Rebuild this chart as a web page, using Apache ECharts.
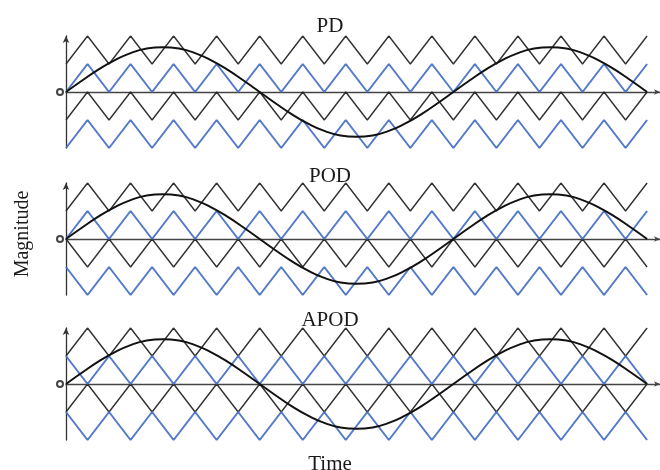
<!DOCTYPE html>
<html>
<head>
<meta charset="utf-8">
<script src="https://cdn.jsdelivr.net/npm/echarts@6/dist/echarts.min.js"></script>
<style>
  html, body { margin: 0; padding: 0; background: #fff; }
  #chart { width: 660px; height: 470px; }
</style>
</head>
<body>
<div id="chart"></div>
<script>
// ---- Data ----
const panelTitles = ['PD', 'POD', 'APOD'];
const axisTitleX = 'Time';
const axisTitleY = 'Magnitude';

// carrier vertex times (in carrier periods)
const carrierTimes = [0,0.5,1,1.5,2,2.5,3,3.5,4,4.5,5,5.5,6,6.5,7,7.5,8,8.5,9,9.5,10,10.5,11,11.5,12,12.5,13,13.5];

// PD: all carriers in phase
const pdTopBlack = [1,2,1,2,1,2,1,2,1,2,1,2,1,2,1,2,1,2,1,2,1,2,1,2,1,2,1,2];
const pdUpBlue   = [0,1,0,1,0,1,0,1,0,1,0,1,0,1,0,1,0,1,0,1,0,1,0,1,0,1,0,1];
const pdLowBlack = [-1,0,-1,0,-1,0,-1,0,-1,0,-1,0,-1,0,-1,0,-1,0,-1,0,-1,0,-1,0,-1,0,-1,0];
const pdLowBlue  = [-2,-1,-2,-1,-2,-1,-2,-1,-2,-1,-2,-1,-2,-1,-2,-1,-2,-1,-2,-1,-2,-1,-2,-1,-2,-1,-2,-1];

// POD: carriers below zero in opposite phase
const podTopBlack = [1,2,1,2,1,2,1,2,1,2,1,2,1,2,1,2,1,2,1,2,1,2,1,2,1,2,1,2];
const podUpBlue   = [0,1,0,1,0,1,0,1,0,1,0,1,0,1,0,1,0,1,0,1,0,1,0,1,0,1,0,1];
const podLowBlack = [0,-1,0,-1,0,-1,0,-1,0,-1,0,-1,0,-1,0,-1,0,-1,0,-1,0,-1,0,-1,0,-1,0,-1];
const podLowBlue  = [-1,-2,-1,-2,-1,-2,-1,-2,-1,-2,-1,-2,-1,-2,-1,-2,-1,-2,-1,-2,-1,-2,-1,-2,-1,-2,-1,-2];

// APOD: adjacent carriers alternately in opposite phase
const apodTopBlack = [1,2,1,2,1,2,1,2,1,2,1,2,1,2,1,2,1,2,1,2,1,2,1,2,1,2,1,2];
const apodUpBlue   = [1,0,1,0,1,0,1,0,1,0,1,0,1,0,1,0,1,0,1,0,1,0,1,0,1,0,1,0];
const apodLowBlack = [-1,0,-1,0,-1,0,-1,0,-1,0,-1,0,-1,0,-1,0,-1,0,-1,0,-1,0,-1,0,-1,0,-1,0];
const apodLowBlue  = [-1,-2,-1,-2,-1,-2,-1,-2,-1,-2,-1,-2,-1,-2,-1,-2,-1,-2,-1,-2,-1,-2,-1,-2,-1,-2,-1,-2];

// modulating (reference) wave
const sineTimes  = [0,0.375,0.75,1.125,1.5,1.875,2.25,2.625,3,3.375,3.75,4.125,4.5,4.875,5.25,5.625,6,6.375,6.75,7.125,7.5,7.875,8.25,8.625,9,9.375,9.75,10.125,10.5,10.875,11.25,11.625,12,12.375,12.75,13.125,13.5];
const sineValues = [0,0.41,0.8,1.13,1.39,1.55,1.6,1.55,1.39,1.13,0.8,0.41,0,-0.41,-0.8,-1.13,-1.39,-1.55,-1.6,-1.55,-1.39,-1.13,-0.8,-0.41,0,0.41,0.8,1.13,1.39,1.55,1.6,1.55,1.39,1.13,0.8,0.41,0];

// ---- Build chart ----
const panelCarriers = [
  [pdTopBlack, pdUpBlue, pdLowBlack, pdLowBlue],
  [podTopBlack, podUpBlue, podLowBlack, podLowBlue],
  [apodTopBlack, apodUpBlue, apodLowBlack, apodLowBlue]
];
const gridTops = [36, 183, 328];
const carrierColors = ['#262626', '#4a72c6', '#262626', '#4a72c6'];
const carrierWidths = [1.4, 2, 1.4, 2];
const titleTops = [11, 161, 305];

function zip(xs, ys) { return xs.map((x, i) => [x, ys[i]]); }

const grids = [], xAxes = [], yAxes = [], series = [], titles = [];
for (let p = 0; p < 3; p++) {
  grids.push({ left: 66, right: 0, top: gridTops[p], height: 112 });
  xAxes.push({
    type: 'value', gridIndex: p, min: 0, max: 13.8,
    axisLine: { show: true, onZero: true, symbol: ['none', 'arrow'], symbolSize: [4, 6],
      lineStyle: { color: '#444', width: 1.3 } },
    axisTick: { show: false }, axisLabel: { show: false }, splitLine: { show: false }
  });
  yAxes.push({
    type: 'value', gridIndex: p, min: -2, max: 2,
    axisLine: { show: true, onZero: false, symbol: ['none', 'arrow'], symbolSize: [5, 7],
      lineStyle: { color: '#333', width: 1.3 } },
    axisTick: { show: false }, axisLabel: { show: false }, splitLine: { show: false }
  });
  titles.push({
    text: panelTitles[p], left: 'center', top: titleTops[p],
    textStyle: { fontFamily: 'Liberation Serif', fontSize: 21, fontWeight: 'normal', color: '#1a1a1a', lineHeight: 21 }
  });
  panelCarriers[p].forEach((vals, k) => {
    series.push({
      type: 'line', xAxisIndex: p, yAxisIndex: p, data: zip(carrierTimes, vals),
      symbol: 'none', silent: true, z: k % 2 === 1 ? 3 : 2,
      lineStyle: { color: carrierColors[k], width: carrierWidths[k], opacity: 0.95 }
    });
  });
  series.push({
    type: 'line', xAxisIndex: p, yAxisIndex: p, data: zip(sineTimes, sineValues),
    symbol: 'none', smooth: true, silent: true, z: 4, clip: false,
    lineStyle: { color: '#111', width: 2 },
    markPoint: {
      symbol: 'emptyCircle', symbolSize: 6, symbolOffset: [-6, 0], silent: true,
      itemStyle: { color: '#444', borderColor: '#444', borderWidth: 1.2 },
      label: { show: false },
      data: [{ coord: [0, 0] }]
    }
  });
}
titles.push({
  text: axisTitleX, left: 'center', top: 449,
  textStyle: { fontFamily: 'Liberation Serif', fontSize: 21, fontWeight: 'normal', color: '#1a1a1a', lineHeight: 21 }
});

const chart = echarts.init(document.getElementById('chart'), null, { renderer: 'canvas' });
chart.setOption({
  animation: false,
  backgroundColor: '#fff',
  title: titles,
  grid: grids, xAxis: xAxes, yAxis: yAxes, series: series,
  graphic: [{
    type: 'text', x: 23, y: 234, rotation: Math.PI / 2,
    style: { text: axisTitleY, fontFamily: 'Liberation Serif', fontSize: 20, fill: '#1a1a1a',
      textAlign: 'center', textVerticalAlign: 'middle' }
  }]
});
</script>
</body>
</html>
